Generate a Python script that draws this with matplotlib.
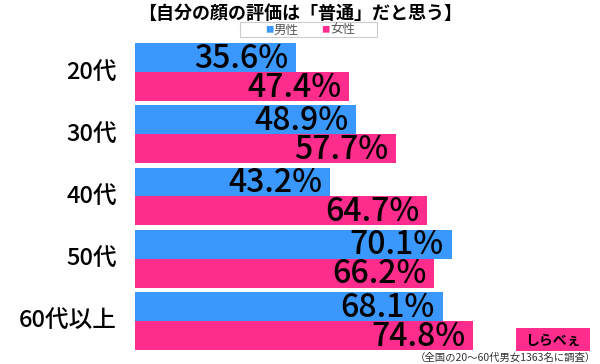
import matplotlib
matplotlib.use("Agg")
import matplotlib.pyplot as plt
from matplotlib.patches import Rectangle

plt.rcParams['font.family'] = ['Noto Sans CJK JP', 'DejaVu Sans']

categories = ["20代", "30代", "40代", "50代", "60代以上"]
male = [35.6, 48.9, 43.2, 70.1, 68.1]
female = [47.4, 57.7, 64.7, 66.2, 74.8]
title = "【自分の顔の評価は「普通」だと思う】"
legend_labels = ["男性", "女性"]
footer = "（全国の20～60代男女1363名に調査）"

blue = '#3a97fb'
pink = '#fd2c8d'

W, H = 600, 364
fig = plt.figure(figsize=(W/100, H/100), dpi=100)
left_px, top_px, bot_px = 135, 41, 352
ax = fig.add_axes([left_px/W, (H-bot_px)/H, 1-left_px/W, (bot_px-top_px)/H])
ax.set_xlim(0, (W-left_px)/4.52)
n = len(categories)
ax.set_ylim(n-0.5, -0.5)
bh = 0.465
ys = list(range(n))
ax.barh([y-bh/2 for y in ys], male, height=bh, color=blue)
ax.barh([y+bh/2 for y in ys], female, height=bh, color=pink)
pad = 8/4.52
for y, m, f in zip(ys, male, female):
    ax.text(m-pad, y-bh/2+0.02, f"{m:.1f}%", ha='right', va='center', fontsize=23, fontweight='medium', color='black')
    ax.text(f-pad, y+bh/2+0.02, f"{f:.1f}%", ha='right', va='center', fontsize=23, fontweight='medium', color='black')
    ax.text(-18/4.52, y, categories[y], ha='right', va='center', fontsize=17, fontweight='medium', color='black')
for s in ax.spines.values():
    s.set_visible(False)
ax.set_xticks([]); ax.set_yticks([])

fig.text(0.5, 1-13/H, title, ha='center', va='center', fontsize=13, fontweight='bold')
# legend
fig.patches.append(Rectangle((240/W, 1-37/H), 137/W, 15/H, transform=fig.transFigure,
                             facecolor='white', edgecolor='#cccccc', lw=0.8))
fig.text(269/W, 1-30/H, "■", color=blue, fontsize=6, ha='center', va='center')
fig.text(274/W, 1-30/H, legend_labels[0], color='#555555', fontsize=9, ha='left', va='center')
fig.text(325/W, 1-30/H, "■", color=pink, fontsize=6, ha='center', va='center')
fig.text(330/W, 1-30/H, legend_labels[1], color='#555555', fontsize=9, ha='left', va='center')
# logo
fig.patches.append(Rectangle((516/W, 1-351/H), 74/W, 23/H, transform=fig.transFigure,
                             facecolor='#fd2c8d', edgecolor='none'))
fig.text(553/W, 1-341/H, "しらべぇ", color='black', fontsize=10, fontweight='bold', ha='center', va='center')
fig.text(596/W, 1-358/H, footer, ha='right', va='center', fontsize=7.5, color='#333333')

fig.savefig("out.png", dpi=100)
